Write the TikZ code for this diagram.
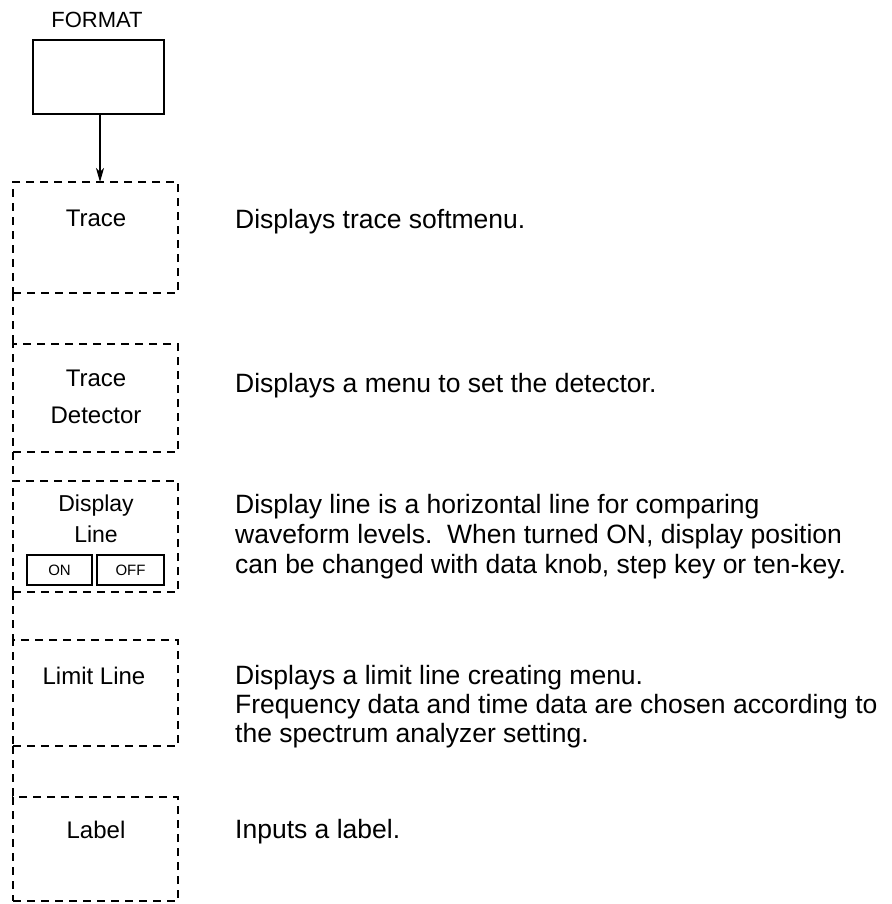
\documentclass[tikz,border=0pt]{standalone}
\usepackage{fontspec}
\setmainfont{Liberation Sans}
\usetikzlibrary{arrows.meta}
\begin{document}
\begin{tikzpicture}[x=1pt,y=-1pt,
  dashline/.style={line width=1.3pt, dash pattern=on 8pt off 6pt},
  menubox/.style={draw, dashline, rectangle, inner sep=0pt, outer sep=0pt, minimum width=165pt},
  keybox/.style={draw, line width=1.4pt, rectangle, inner sep=0pt, outer sep=0pt, minimum width=131pt, minimum height=74pt},
  btn/.style={draw, line width=1.3pt, rectangle, inner sep=0pt, minimum height=30pt, font=\fontsize{15}{17}\selectfont},
  boxlbl/.style={anchor=base, inner sep=0pt, font=\fontsize{24}{28}\selectfont},
  desc/.style={anchor=base west, inner sep=0pt, font=\fontsize{26.5}{30}\selectfont}]
\useasboundingbox (0,0) rectangle (891,904);
% FORMAT key
\node[anchor=base, inner sep=0pt, font=\fontsize{22}{26}\selectfont] (fmt) at (97,28) {FORMAT};
\node[keybox] (key) at (98.5,77) {};
% menu boxes
\node[menubox, minimum height=111pt] (m1) at (95.5,237.5) {};
\node[menubox, minimum height=108pt] (m2) at (95.5,398) {};
\node[menubox, minimum height=111pt] (m3) at (95.5,536.5) {};
\node[menubox, minimum height=106pt] (m4) at (95.5,693) {};
\node[menubox, minimum height=104pt] (m5) at (95.5,849) {};
% connectors
\draw[line width=1.2pt, -{Stealth[length=14pt,width=8pt,inset=4pt]}] ([xshift=1.5pt]key.south) -- ([xshift=4.5pt]m1.north);
\draw[dashline] (m1.south west) -- (m2.north west);
\draw[dashline] (m2.south west) -- (m3.north west);
\draw[dashline] (m3.south west) -- (m4.north west);
\draw[dashline] (m4.south west) -- (m5.north west);
% box labels
\node[boxlbl] (b1) at (96,226) {Trace};
\node[boxlbl] (b2a) at (96,386) {Trace};
\node[boxlbl] (b2b) at (96,423) {Detector};
\node[boxlbl, font=\fontsize{23}{26}\selectfont] (b3a) at (96,511) {Display};
\node[boxlbl, font=\fontsize{23}{26}\selectfont] (b3b) at (96,542) {Line};
\node[btn, minimum width=65pt] (on) at (59.5,570) {ON};
\node[btn, minimum width=67pt] (off) at (130.5,570) {OFF};
\node[boxlbl] (b4) at (94,684) {Limit Line};
\node[boxlbl] (b5) at (96,838) {Label};
% descriptions
\node[desc] (d1) at (235,228) {Displays trace softmenu.};
\node[desc] (d2) at (235,392) {Displays a menu to set the detector.};
\node[desc] (d3a) at (235,513) {Display line is a horizontal line for comparing};
\node[desc] (d3b) at (235,543) {waveform levels.\ \ When turned ON, display position};
\node[desc] (d3c) at (235,573) {can be changed with data knob, step key or ten-key.};
\node[desc] (d4a) at (235,684) {Displays a limit line creating menu.};
\node[desc] (d4b) at (235,713) {Frequency data and time data are chosen according to};
\node[desc] (d4c) at (235,742) {the spectrum analyzer setting.};
\node[desc] (d5) at (235,838) {Inputs a label.};
\end{tikzpicture}
\end{document}
